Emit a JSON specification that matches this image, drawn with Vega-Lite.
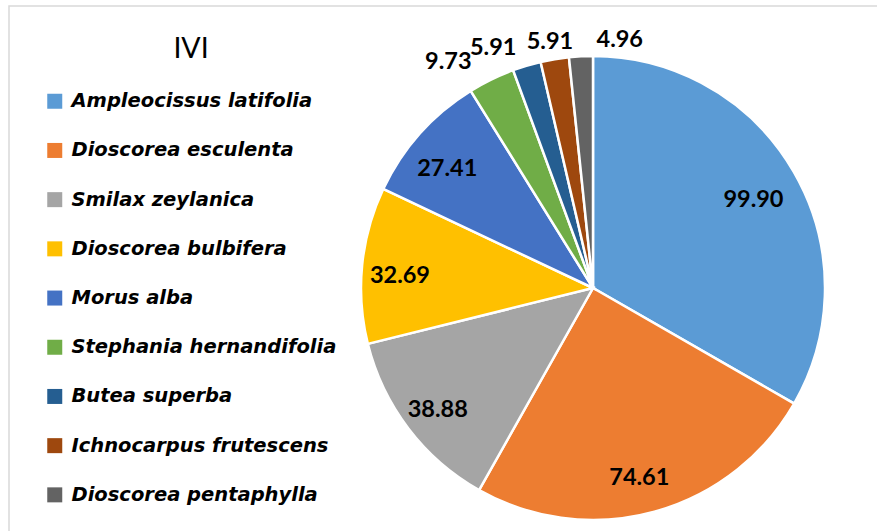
{
  "$schema": "https://vega.github.io/schema/vega-lite/v6.json",
  "autosize": {"type": "none"},
  "width": 871,
  "height": 528,
  "padding": {"left": 9, "top": 6, "right": -3, "bottom": -3},
  "background": "white",
  "view": {"stroke": "#d9d9d9", "strokeWidth": 1.5},
  "data": {"values": [
    {"i": 1, "species": "Ampleocissus latifolia", "ivi": 99.90, "label": "99.90"},
    {"i": 2, "species": "Dioscorea esculenta", "ivi": 74.61, "label": "74.61"},
    {"i": 3, "species": "Smilax zeylanica", "ivi": 38.88, "label": "38.88"},
    {"i": 4, "species": "Dioscorea bulbifera", "ivi": 32.69, "label": "32.69"},
    {"i": 5, "species": "Morus alba", "ivi": 27.41, "label": "27.41"},
    {"i": 6, "species": "Stephania hernandifolia", "ivi": 9.73, "label": "9.73"},
    {"i": 7, "species": "Butea superba", "ivi": 5.91, "label": "5.91"},
    {"i": 8, "species": "Ichnocarpus frutescens", "ivi": 5.91, "label": "5.91"},
    {"i": 9, "species": "Dioscorea pentaphylla", "ivi": 4.96, "label": "4.96"}
  ]},
  "encoding": {
    "theta": {"field": "ivi", "type": "quantitative", "stack": true},
    "order": {"field": "i", "type": "quantitative"}
  },
  "layer": [
    {
      "mark": {"type": "arc", "outerRadius": 232, "x": 584, "y": 282, "stroke": "white", "strokeWidth": 2.5},
      "encoding": {
        "color": {
          "field": "species", "type": "nominal", "sort": null,
          "scale": {
            "domain": ["Ampleocissus latifolia", "Dioscorea esculenta", "Smilax zeylanica", "Dioscorea bulbifera", "Morus alba", "Stephania hernandifolia", "Butea superba", "Ichnocarpus frutescens", "Dioscorea pentaphylla"],
            "range": ["#5B9BD5", "#ED7D31", "#A5A5A5", "#FFC000", "#4472C4", "#70AD47", "#255E91", "#9E480E", "#636363"]
          },
          "legend": {
            "title": "\u00a0\u00a0\u00a0\u00a0IVI",
            "orient": "none",
            "legendX": 36,
            "legendY": 29,
            "titleFont": "Lato",
            "titleFontSize": 28.5,
            "titleFontWeight": "normal",
            "titleColor": "black",
            "titleAnchor": "middle",
            "titlePadding": 28,
            "labelFont": "DejaVu Sans",
            "labelFontSize": 19.5,
            "labelFontWeight": "bold",
            "labelFontStyle": "italic",
            "labelColor": "black",
            "labelOffset": 7,
            "labelLimit": 400,
            "symbolType": "square",
            "symbolSize": 225,
            "symbolStrokeWidth": 0,
            "rowPadding": 28.2
          }
        }
      }
    },
    {
      "mark": {"type": "text", "radius": 190, "x": 584, "y": 282, "dx": -4, "dy": 7, "font": "Lato", "fontSize": 23.5, "fontWeight": "bold", "color": "black"},
      "encoding": {"text": {"condition": {"test": "datum.i <= 5", "field": "label"}, "value": ""}}
    },
    {
      "mark": {"type": "text", "radius": 255, "x": 584, "y": 282, "dx": -33, "dy": 3, "font": "Lato", "fontSize": 23.5, "fontWeight": "bold", "color": "black"},
      "encoding": {"text": {"condition": {"test": "datum.i == 6", "field": "label"}, "value": ""}}
    },
    {
      "mark": {"type": "text", "radius": 255, "x": 584, "y": 282, "dx": -27, "dy": 4, "font": "Lato", "fontSize": 23.5, "fontWeight": "bold", "color": "black"},
      "encoding": {"text": {"condition": {"test": "datum.i == 7", "field": "label"}, "value": ""}}
    },
    {
      "mark": {"type": "text", "radius": 255, "x": 584, "y": 282, "dx": -1, "dy": 6, "font": "Lato", "fontSize": 23.5, "fontWeight": "bold", "color": "black"},
      "encoding": {"text": {"condition": {"test": "datum.i == 8", "field": "label"}, "value": ""}}
    },
    {
      "mark": {"type": "text", "radius": 255, "x": 584, "y": 282, "dx": 40, "dy": 7, "font": "Lato", "fontSize": 23.5, "fontWeight": "bold", "color": "black"},
      "encoding": {"text": {"condition": {"test": "datum.i == 9", "field": "label"}, "value": ""}}
    }
  ]
}
